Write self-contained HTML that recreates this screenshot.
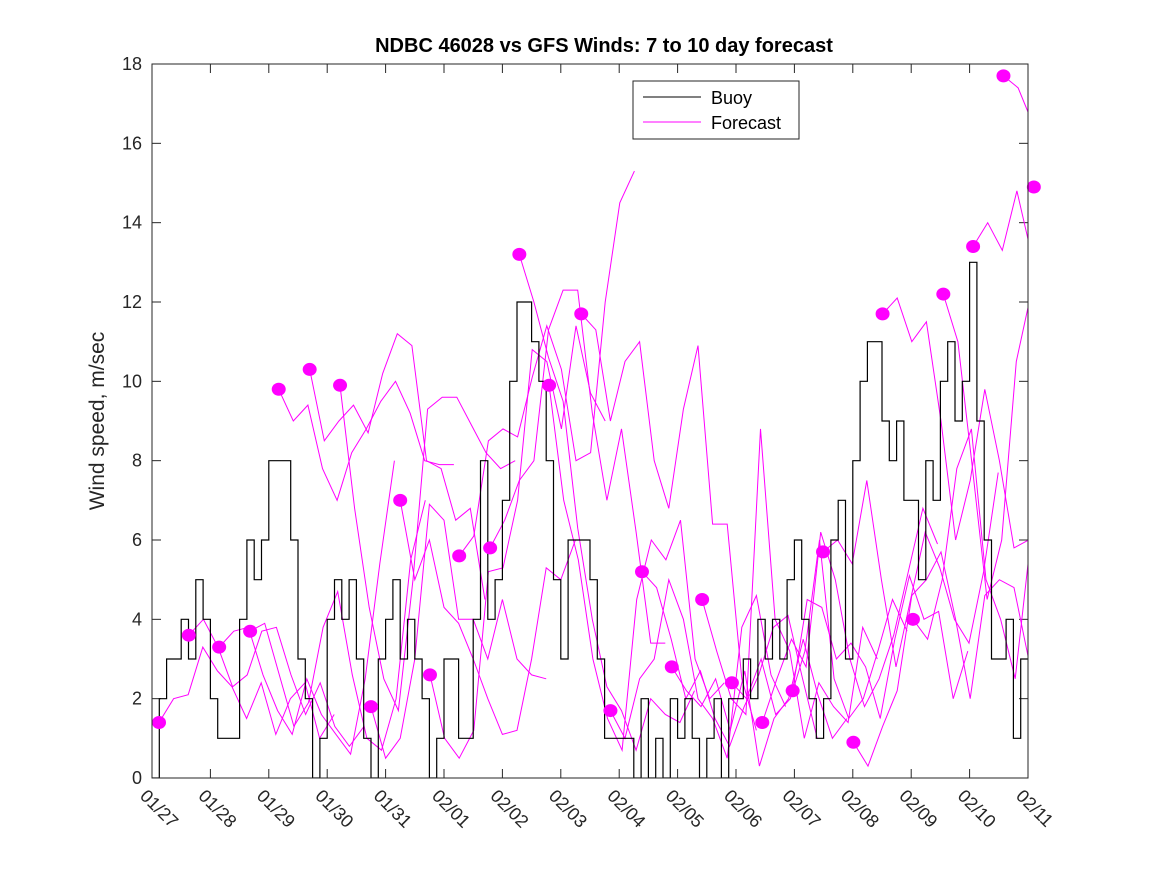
<!DOCTYPE html>
<html><head><meta charset="utf-8"><style>
body{margin:0;background:#fff}
svg{display:block;font-family:"Liberation Sans","DejaVu Sans",sans-serif}
</style></head><body>
<svg id="chart" width="1167" height="875" viewBox="0 0 1167 875">
<defs><clipPath id="plotclip"><rect x="152" y="64" width="876" height="714"/></clipPath></defs>
<rect x="0" y="0" width="1167" height="875" fill="#fff"/>
<text x="604" y="52" text-anchor="middle" font-size="20" font-weight="bold" fill="#000">NDBC 46028 vs GFS Winds: 7 to 10 day forecast</text>
<text transform="translate(104,421) rotate(-90)" text-anchor="middle" font-size="21" fill="#262626">Wind speed, m/sec</text>
<g id="grid-ticks"></g>
<g id="series" clip-path="url(#plotclip)"></g>
<g id="dots"></g>
<rect x="152" y="64" width="876" height="714" fill="none" stroke="#262626" stroke-width="1"/>
<g id="xlabels"></g>
<g id="ylabels"></g>
<g>
<rect x="633" y="81" width="166" height="58" fill="#fff" stroke="#262626" stroke-width="1"/>
<line x1="643" y1="97" x2="701" y2="97" stroke="#000" stroke-width="1"/>
<text x="711" y="104" font-size="18" fill="#000">Buoy</text>
<line x1="643" y1="122" x2="701" y2="122" stroke="#f0f" stroke-width="1"/>
<text x="711" y="129" font-size="18" fill="#000">Forecast</text>
</g>
</svg>
<script>
const xTickLabels=["01/27","01/28","01/29","01/30","01/31","02/01","02/02","02/03","02/04","02/05","02/06","02/07","02/08","02/09","02/10","02/11"];
const yTicks=[0,2,4,6,8,10,12,14,16,18];
const buoyStepDays=0.125;
const buoy=[0,2,3,3,4,3,5,4, 2,1,1,1,4,6,5,6, 8,8,8,6,3,2,0,1, 4,5,4,5,3,1,0,3, 4,5,3,4,3,2,0,1, 3,3,1,1,4,8,4,5, 7,10,12,12,11,10,8,5, 3,6,6,6,5,3,1,1, 1,1,0,2,0,1,0,2, 1,2,1,0,1,2,0,2, 2,3,2,4,3,4,3,5, 6,4,2,1,2,6,7,3, 8,10,11,11,9,8,9,7, 7,5,8,7,10,11,9,10, 13,9,6,3,3,4,1,3];
const fcStepDays=0.25;
const fcStart=[0.12,0.63,1.15,1.68,2.17,2.70,3.22,3.75,4.25,4.76,5.26,5.79,6.29,6.80,7.35,7.85,8.39,8.90,9.42,9.93,10.45,10.97,11.49,12.01,12.51,13.03,13.55,14.06,14.58,15.10];
const fc0=[1.4,2.0,2.1,3.3,2.7,2.3,1.5,2.4,1.1,2.0,2.4,1.0,1.6];
const fc1=[3.6,4.0,3.3,2.3,2.6,3.7,3.8,2.6,1.6,2.4,1.3,0.8,1.3];
const fc2=[3.3,3.7,3.8,2.6,1.7,1.1,2.5,1.6,1.1,0.6,2.5,5.4,8.0];
const fc3=[3.7,3.9,2.6,1.3,1.9,3.8,4.7,2.6,1.0,0.7,2.0,5.5,7.0];
const fc4=[9.8,9.0,9.4,7.8,7.0,8.2,8.8,9.5,10.0,9.2,8.0,7.9,7.9];
const fc5=[10.3,8.5,9.0,9.4,8.7,10.2,11.2,10.9,8.0,7.8,6.5,6.8,4.5];
const fc6=[9.9,6.8,4.3,2.5,1.7,5.0,9.3,9.6,9.6,8.9,8.2,7.8,8.0];
const fc7=[1.8,0.5,1.0,3.0,6.9,6.5,4.0,4.0,3.0,4.5,3.0,2.6,2.5];
const fc8=[7.0,5.0,6.0,4.3,3.9,3.0,2.0,1.1,1.2,3.0,5.3,5.0,6.0];
const fc9=[2.6,1.0,0.5,1.2,5.2,5.3,7.0,10.8,10.5,8.8,11.4,9.7,9.0];
const fc10=[5.6,6.1,8.5,8.8,8.6,10.1,11.4,10.3,8.0,8.2,12.0,14.5,15.3];
const fc11=[5.8,6.5,7.5,8.0,11.3,12.3,12.3,9.2,7.0,8.8,6.2,3.4,3.4];
const fc12=[13.2,12.0,10.6,9.5,6.3,4.0,2.3,1.7,0.7,2.0,1.6,1.4,2.2];
const fc13=[9.9,7.0,5.5,3.0,1.5,0.7,4.5,6.0,5.5,6.5,3.0,2.0,2.4];
const fc14=[11.7,11.3,9.0,10.5,11.0,8.0,6.8,9.3,10.9,6.4,6.4,2.5,1.2];
const fc15=[1.7,1.0,2.5,3.0,5.0,4.0,2.0,1.5,0.5,3.8,4.6,2.6,1.8];
const fc16=[5.2,4.8,3.5,2.0,2.7,1.5,0.8,1.8,2.6,3.8,4.1,2.5,1.0];
const fc17=[2.8,2.2,1.8,2.5,1.2,2.7,0.3,1.5,2.0,3.5,2.1,1.0,1.5];
const fc18=[4.5,3.2,2.0,1.6,8.8,4.0,3.2,1.0,2.4,1.8,1.4,3.8,3.0];
const fc19=[2.4,2.0,3.0,1.6,2.0,3.2,6.0,2.5,1.5,2.0,3.2,4.5,3.7];
const fc20=[1.4,2.5,3.5,2.8,6.2,5.0,3.0,1.8,2.5,3.6,5.2,6.8,5.9];
const fc21=[2.2,4.5,4.3,3.0,3.4,2.8,1.5,3.5,5.1,4.0,4.2,2.0,3.2];
const fc22=[5.7,6.0,5.4,7.5,5.0,2.8,4.5,6.2,5.3,4.0,3.4,5.2,7.7];
const fc23=[0.9,0.3,1.3,2.2,4.6,5.0,5.7,4.0,2.0,4.6,5.0,4.8,3.0];
const fc24=[11.7,12.1,11.0,11.5,9.0,6.0,7.5,9.8,8.0,5.8,6.0,8.5,11.0];
const fc25=[4.0,3.5,5.0,7.8,8.8,5.0,4.0,2.5,5.8,7.5,9.0,5.5,3.0];
const fc26=[12.2,11.0,7.8,4.5,6.0,10.5,12.2,9.5,6.0,4.8,8.0,9.2,1.0];
const fc27=[13.4,14.0,13.3,14.8,13.2,15.8,16.7,13.5,12.5,11.5,11.2,10.0,9.3];
const fc28=[17.7,17.4,16.5,15.5,14.0,17.2,14.2,13.6,12.8];
const fc29=[14.9,14.5];
const forecasts=[fc0,fc1,fc2,fc3,fc4,fc5,fc6,fc7,fc8,fc9,fc10,fc11,fc12,fc13,fc14,fc15,fc16,fc17,fc18,fc19,fc20,fc21,fc22,fc23,fc24,fc25,fc26,fc27,fc28,fc29];

const NS="http://www.w3.org/2000/svg";
const X0=152,X1=1028,Y0=778,Y1=64,DAYS=15,YMAX=18;
function xs(d){return X0+(X1-X0)*d/DAYS;}
function ys(v){return Y0-(Y0-Y1)*v/YMAX;}
function mk(tag,attrs,parent){const e=document.createElementNS(NS,tag);for(const k in attrs)e.setAttribute(k,attrs[k]);parent.appendChild(e);return e;}

const tk=document.getElementById('grid-ticks');
const xl=document.getElementById('xlabels');
const yl=document.getElementById('ylabels');
xTickLabels.forEach((lab,i)=>{
  const x=xs(i);
  const t1=mk('line',{x1:x,y1:Y0,x2:x,y2:Y0-9,stroke:'#262626'},tk);
  
  
  const t2=mk('line',{x1:x,y1:Y1,x2:x,y2:Y1+9,stroke:'#262626'},tk);
  
  
  const t=mk('text',{x:x-13,y:797,'font-size':18,fill:'#262626',transform:`rotate(45 ${x-13} 797)`},xl);
  t.textContent=lab;
  
  
});
yTicks.forEach(v=>{
  const y=ys(v);
  const t1=mk('line',{x1:X0,y1:y,x2:X0+9,y2:y,stroke:'#262626'},tk);
  
  
  const t2=mk('line',{x1:X1,y1:y,x2:X1-9,y2:y,stroke:'#262626'},tk);
  
  
  const t=mk('text',{x:142,y:y+6,'text-anchor':'end','font-size':18,fill:'#262626'},yl);
  t.textContent=v;
  
  
});

const ser=document.getElementById('series');
forecasts.forEach((arr,i)=>{
  const pts=arr.map((v,j)=>xs(fcStart[i]+j*fcStepDays).toFixed(1)+','+ys(v).toFixed(1)).join(' ');
  const p=mk('polyline',{points:pts,fill:'none',stroke:'#f0f','stroke-width':1},ser);
  
  
});
let d='';
buoy.forEach((v,i)=>{
  const xa=xs(i*buoyStepDays),xb=xs((i+1)*buoyStepDays),y=ys(v);
  d+=(i===0?'M':'L')+xa.toFixed(1)+','+y.toFixed(1)+'L'+xb.toFixed(1)+','+y.toFixed(1);
});
const bp=mk('path',{d:d,fill:'none',stroke:'#000','stroke-width':1.2},ser);



const dots=document.getElementById('dots');
forecasts.forEach((arr,i)=>{
  const c=mk('ellipse',{cx:xs(fcStart[i]),cy:ys(arr[0]),rx:7,ry:6.5,fill:'#f0f'},dots);
  
  
});
</script>
</body></html>
